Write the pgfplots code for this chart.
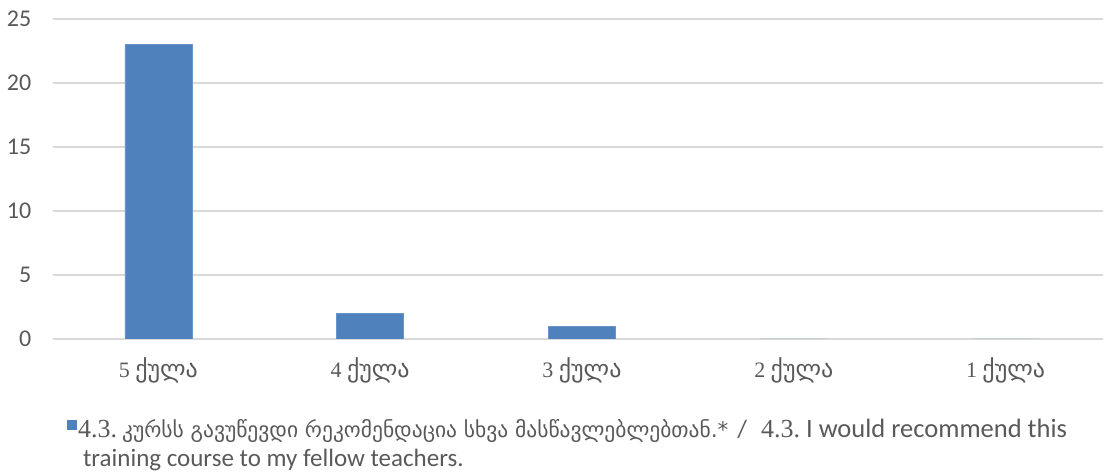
\documentclass[border=0pt]{standalone}
\usepackage{fontspec}
\usepackage{pgfplots}
\pgfplotsset{compat=1.18}
\setmainfont{Carlito}
\newfontfamily\geo{DejaVu Sans}
\newfontfamily\ser{Liberation Serif}
\definecolor{barblue}{HTML}{4F81BD}
\definecolor{gridgray}{HTML}{D9D9D9}
\definecolor{txt}{HTML}{595959}
\begin{document}
\begin{tikzpicture}
\path[use as bounding box] (0,0) rectangle (1103pt,473pt);
\begin{axis}[
  name=ax,
  at={(52.5pt,134pt)}, anchor=south west,
  scale only axis,
  width=1059pt, height=320pt,
  xmin=-0.5, xmax=4.5,
  ymin=0, ymax=25,
  ytick={0,5,10,15,20,25},
  xtick={0,1,2,3,4},
  xticklabels={{\ser\fontsize{22}{24}\selectfont 5} {\geo ქულა},{\ser\fontsize{22}{24}\selectfont 4} {\geo ქულა},{\ser\fontsize{22}{24}\selectfont 3} {\geo ქულა},{\ser\fontsize{22}{24}\selectfont 2} {\geo ქულა},{\ser\fontsize{22}{24}\selectfont 1} {\geo ქულა}},
  xmajorgrids=false,
  ymajorgrids=true,
  grid style={draw=gridgray, line width=1.8pt},
  axis line style={draw=none},
  major tick style={draw=none},
  tick label style={text=txt},
  yticklabel style={font=\fontsize{24}{26}\selectfont, anchor=east, inner sep=0pt, xshift=-21pt},
  xticklabel style={font=\fontsize{24}{26}\selectfont, anchor=base, inner sep=0pt, yshift=-39pt},
  /pgf/number format/assume math mode=true,
  legend style={at={(0,0)}, anchor=north west, xshift=11pt, yshift=-76pt, draw=none, fill=none,
    font=\fontsize{25}{29}\selectfont, text=txt, cells={anchor=base west}},
  legend image code/.code={\path (0pt,0pt); \fill[barblue] (0pt,8pt) rectangle (9pt,17pt);},
]
\addplot[ybar, bar width=67pt, fill=barblue, draw=barblue!85!white, bar shift=0pt]
  coordinates {(0,23) (1,2) (2,1) (3,0) (4,0)};
\addlegendentry{\parbox[t]{1030pt}{\raggedright\baselineskip=29pt {\ser\fontsize{26}{29}\selectfont 4.3.}\hspace{5pt}{\geo\fontsize{21.5}{29}\selectfont კურსს გავუწევდი რეკომენდაცია სხვა მასწავლებლებთან.*}\hspace{9pt}/\hspace{14pt}{\ser\fontsize{26}{29}\selectfont 4.3.}\hspace{6pt}{\fontsize{26.5}{29}\selectfont I would recommend this}\\\hspace*{5pt}training course to my fellow teachers.}}
\end{axis}
\end{tikzpicture}
\end{document}
